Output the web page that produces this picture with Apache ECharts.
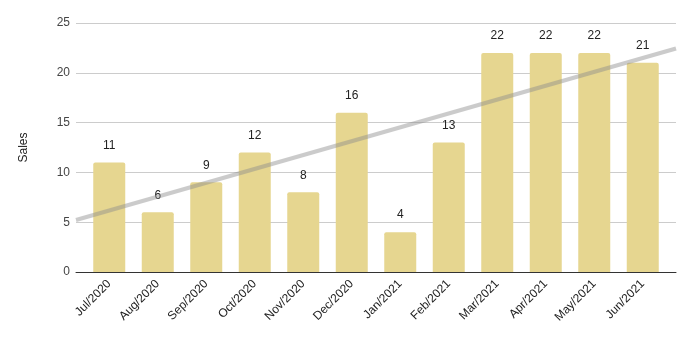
<!DOCTYPE html>
<html>
<head>
<meta charset="utf-8">
<script src="https://cdn.jsdelivr.net/npm/echarts@6/dist/echarts.min.js"></script>
<style>
  html, body { margin: 0; padding: 0; background: #fff; }
  #myChart { width: 693px; height: 338px; }
</style>
</head>
<body>
<div id="myChart"></div>
<script>
// x轴 月份
const months = ['Jul/2020', 'Aug/2020', 'Sep/2020', 'Oct/2020', 'Nov/2020', 'Dec/2020',
  'Jan/2021', 'Feb/2021', 'Mar/2021', 'Apr/2021', 'May/2021', 'Jun/2021']
// y轴 销量
const sales = [11, 6, 9, 12, 8, 16, 4, 13, 22, 22, 22, 21]
const yTicks = [0, 5, 10, 15, 20, 25]

// outer plot (gridlines, trend) vs inner band where the bars sit
const outer = { left: 76, right: 17 }
const inset = 9
const bandW = (693 - outer.left - outer.right - 2 * inset) / months.length
const pad = 0.5 + inset / bandW

// linear trendline (least squares) over the bar values
function trend(values) {
  const n = values.length
  const mx = (n - 1) / 2
  const my = values.reduce((a, b) => a + b, 0) / n
  let sxy = 0
  let sxx = 0
  values.forEach((v, i) => {
    sxy += (i - mx) * (v - my)
    sxx += (i - mx) * (i - mx)
  })
  const k = sxy / sxx
  const lo = -pad
  const hi = n - 1 + pad
  return [[lo, my + k * (lo - mx)], [hi, my + k * (hi - mx)]]
}

const yBase = {
  type: 'value',
  min: yTicks[0],
  max: yTicks[yTicks.length - 1],
  interval: 5
}

const myChart = echarts.init(document.getElementById('myChart'))
const option = {
  animation: false,
  textStyle: { fontFamily: 'Liberation Sans, Arial, sans-serif' },
  grid: [
    { left: outer.left, right: outer.right, top: 23, bottom: 66 },
    { left: outer.left + inset, right: outer.right + inset, top: 23, bottom: 66 }
  ],
  xAxis: [
    {
      gridIndex: 0,
      type: 'value',
      min: -pad,
      max: months.length - 1 + pad,
      axisLine: { show: true, onZero: false, lineStyle: { color: '#333', width: 1 } },
      axisTick: { show: false },
      axisLabel: { show: false },
      splitLine: { show: false }
    },
    {
      gridIndex: 1,
      type: 'category',
      data: months,
      axisTick: { show: false },
      axisLine: { show: false },
      axisLabel: { rotate: 45, fontSize: 12, color: '#222', interval: 0, margin: 10 }
    }
  ],
  yAxis: [
    Object.assign({}, yBase, {
      gridIndex: 0,
      name: 'Sales',
      nameLocation: 'middle',
      nameGap: 46,
      nameTextStyle: { fontSize: 12, color: '#222' },
      axisLine: { show: false },
      axisTick: { show: false },
      axisLabel: { fontSize: 12, color: '#444', margin: 6 },
      splitLine: { lineStyle: { color: '#ccc' } }
    }),
    Object.assign({}, yBase, {
      gridIndex: 1,
      show: false
    })
  ],
  series: [
    {
      type: 'bar',
      xAxisIndex: 1,
      yAxisIndex: 1,
      data: sales,
      barWidth: 32,
      z: 2,
      itemStyle: { color: '#e6d690', borderRadius: [2, 2, 0, 0] },
      label: { show: true, position: 'top', distance: 11, fontSize: 12, color: '#222' }
    },
    {
      type: 'line',
      xAxisIndex: 0,
      yAxisIndex: 0,
      data: trend(sales),
      symbol: 'none',
      silent: true,
      z: 3,
      lineStyle: { color: 'rgba(140,140,140,0.45)', width: 4 }
    }
  ]
}
myChart.setOption(option)
</script>
</body>
</html>
